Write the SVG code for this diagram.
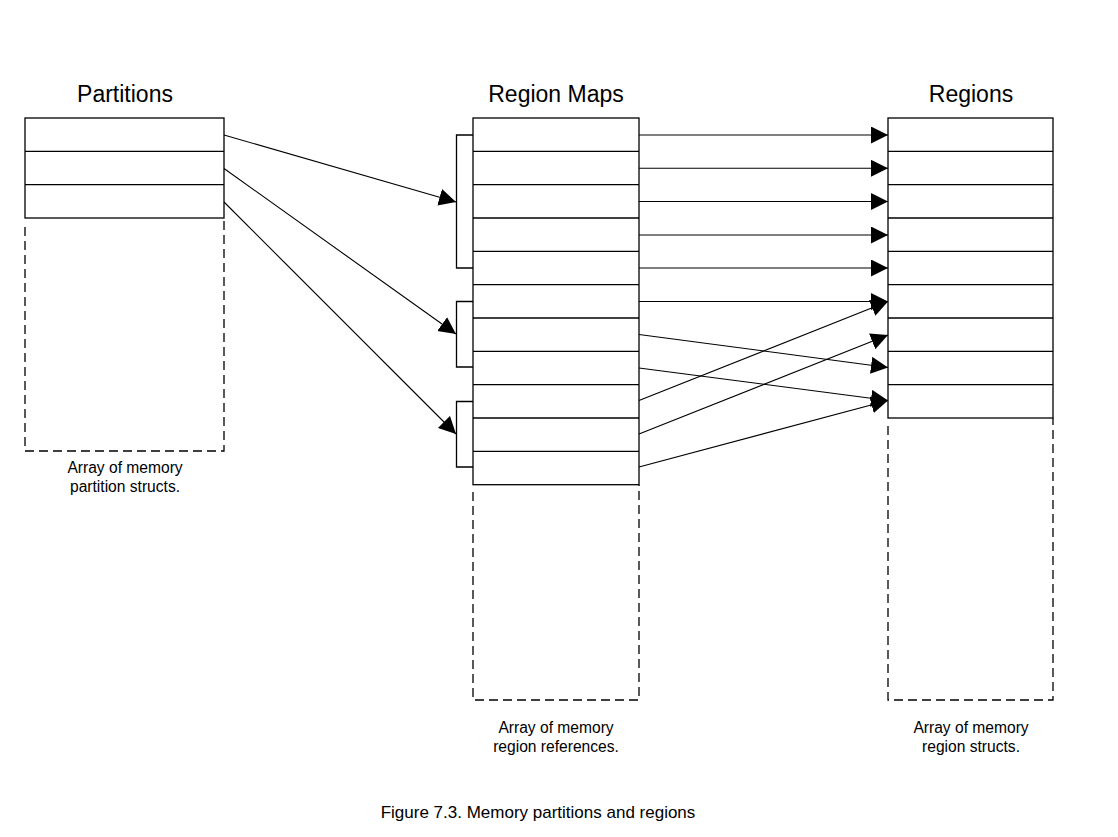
<svg xmlns="http://www.w3.org/2000/svg" width="1118" height="837" viewBox="0 0 1118 837">
<style>
.box{fill:none;stroke:#000;stroke-width:1.3}
.dash{fill:none;stroke:#000;stroke-width:1.3;stroke-dasharray:9,5}
.ln{fill:none;stroke:#000;stroke-width:1.1}
.title{font-family:"Liberation Sans",Arial,sans-serif;font-size:23px;text-anchor:middle;fill:#000}
.cap{font-family:"Liberation Sans",Arial,sans-serif;font-size:15.6px;text-anchor:middle;fill:#000}
.fig{font-family:"Liberation Sans",Arial,sans-serif;font-size:17px;text-anchor:middle;fill:#000}
</style>
<defs>
<marker id="ah" markerUnits="userSpaceOnUse" markerWidth="18" markerHeight="18" refX="17" refY="8.5" orient="auto">
<path d="M0,0 L17,8.5 L0,17 Z" fill="#000"/>
</marker>
</defs>
<rect width="1118" height="837" fill="#fff"/>

<g id="partitions">
<text class="title" x="125" y="102">Partitions</text>
<rect class="box" x="25" y="118" width="199" height="100"/>
<line class="box" x1="25" y1="151.3" x2="224" y2="151.3"/>
<line class="box" x1="25" y1="184.7" x2="224" y2="184.7"/>
<path class="dash" d="M25,227 V451 H224 V218"/>
<text class="cap" x="125" y="473">Array of memory</text>
<text class="cap" x="125" y="492">partition structs.</text>
</g>

<g id="region-maps">
<text class="title" x="556" y="102">Region Maps</text>
<rect class="box" x="473" y="118" width="166" height="366.7"/>
<line class="box" x1="473" y1="151.3" x2="639" y2="151.3"/>
<line class="box" x1="473" y1="184.7" x2="639" y2="184.7"/>
<line class="box" x1="473" y1="218" x2="639" y2="218"/>
<line class="box" x1="473" y1="251.3" x2="639" y2="251.3"/>
<line class="box" x1="473" y1="284.7" x2="639" y2="284.7"/>
<line class="box" x1="473" y1="318" x2="639" y2="318"/>
<line class="box" x1="473" y1="351.3" x2="639" y2="351.3"/>
<line class="box" x1="473" y1="384.7" x2="639" y2="384.7"/>
<line class="box" x1="473" y1="418" x2="639" y2="418"/>
<line class="box" x1="473" y1="451.3" x2="639" y2="451.3"/>
<path class="dash" d="M473,492 V700 H639 V484.7"/>
<path class="box" d="M473,135 H456.5 V268 H473"/>
<path class="box" d="M473,301.5 H456.5 V367 H473"/>
<path class="box" d="M473,401.5 H456.5 V467 H473"/>
<text class="cap" x="556" y="733">Array of memory</text>
<text class="cap" x="556" y="752">region references.</text>
</g>

<g id="regions">
<text class="title" x="971" y="102">Regions</text>
<rect class="box" x="888" y="118" width="165" height="300"/>
<line class="box" x1="888" y1="151.3" x2="1053" y2="151.3"/>
<line class="box" x1="888" y1="184.7" x2="1053" y2="184.7"/>
<line class="box" x1="888" y1="218" x2="1053" y2="218"/>
<line class="box" x1="888" y1="251.3" x2="1053" y2="251.3"/>
<line class="box" x1="888" y1="284.7" x2="1053" y2="284.7"/>
<line class="box" x1="888" y1="318" x2="1053" y2="318"/>
<line class="box" x1="888" y1="351.3" x2="1053" y2="351.3"/>
<line class="box" x1="888" y1="384.7" x2="1053" y2="384.7"/>
<path class="dash" d="M888,426 V700 H1053 V418"/>
<text class="cap" x="971" y="733">Array of memory</text>
<text class="cap" x="971" y="752">region structs.</text>
</g>

<g id="connectors">
<line class="ln" x1="224" y1="135" x2="456" y2="202" marker-end="url(#ah)"/>
<line class="ln" x1="224" y1="168.5" x2="456" y2="334" marker-end="url(#ah)"/>
<line class="ln" x1="224" y1="202" x2="456" y2="434" marker-end="url(#ah)"/>
<line class="ln" x1="639" y1="135" x2="888" y2="135" marker-end="url(#ah)"/>
<line class="ln" x1="639" y1="168.3" x2="888" y2="168.3" marker-end="url(#ah)"/>
<line class="ln" x1="639" y1="201.5" x2="888" y2="201.5" marker-end="url(#ah)"/>
<line class="ln" x1="639" y1="235" x2="888" y2="235" marker-end="url(#ah)"/>
<line class="ln" x1="639" y1="268" x2="888" y2="268" marker-end="url(#ah)"/>
<line class="ln" x1="639" y1="301.5" x2="888" y2="301.5" marker-end="url(#ah)"/>
<line class="ln" x1="639" y1="334.5" x2="888" y2="367.5" marker-end="url(#ah)"/>
<line class="ln" x1="639" y1="368" x2="888" y2="400.5" marker-end="url(#ah)"/>
<line class="ln" x1="639" y1="400.5" x2="888" y2="301.5" marker-end="url(#ah)"/>
<line class="ln" x1="639" y1="434" x2="888" y2="335" marker-end="url(#ah)"/>
<line class="ln" x1="639" y1="467" x2="888" y2="400.5" marker-end="url(#ah)"/>
</g>

<text class="fig" x="538" y="818">Figure 7.3. Memory partitions and regions</text>
</svg>
